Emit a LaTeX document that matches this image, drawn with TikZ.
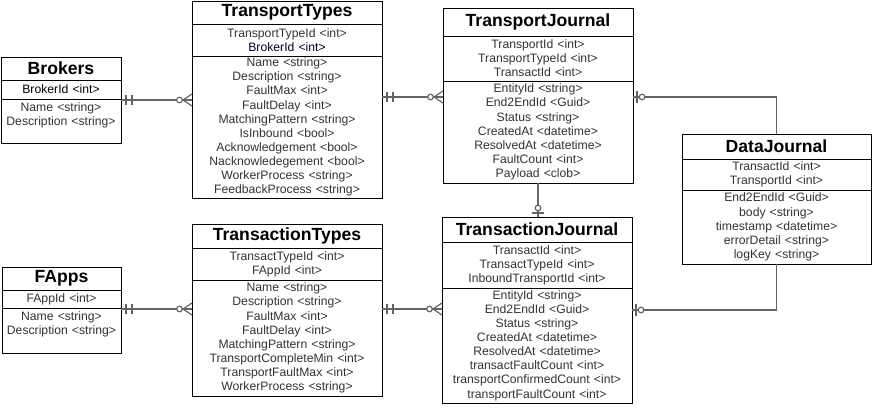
\documentclass[tikz,border=0pt]{standalone}
\usepackage{fontspec}
\setmainfont{Liberation Sans}
\usetikzlibrary{positioning}
\definecolor{attrgray}{RGB}{50,50,50}
\definecolor{keydark}{RGB}{0,0,40}
\definecolor{linkgray}{RGB}{100,100,100}
\tikzset{>=latex}
\tikzstyle{titlebox} = [draw,
                        line width=1pt,
                        inner sep=0pt,
                        outer sep=0pt,
                        align=center,
                        anchor=north west,
                        font=\bfseries\fontsize{17.6}{19}\selectfont]
\tikzstyle{fieldbox} = [draw,
                        line width=1pt,
                        inner sep=0pt,
                        outer sep=0pt,
                        align=center,
                        text=attrgray,
                        font=\fontsize{12.2}{14.1}\selectfont]
\tikzstyle{link} = [draw=linkgray,
                    line width=1.6pt]
\tikzset{
  mandone/.pic={\draw[link] (-5,-5) -- (-5,5) (-11,-5) -- (-11,5);},
  zeroone/.pic={\draw[link] (-4,-6) -- (-4,6);
                \draw[link, line width=1.2pt, fill=white] (-9,0) circle (2.8pt);},
  zeromany/.pic={\draw[link, line width=1.2pt] (-9,0) -- (0,-6) (-9,0) -- (0,6);
                 \draw[link, line width=1.2pt, fill=white] (-12.5,0) circle (2.8pt);}
}

\begin{document}
\begin{tikzpicture}[x=1pt,y=-1pt]
  \useasboundingbox (0,0) rectangle (875,408);

  % Entities
  \node[titlebox, text width=120pt, minimum height=23pt] (brk) at (1,57) {Brokers};
  \node[fieldbox, text width=120pt, minimum height=19pt, below=0pt of brk] (brkpk)
    {\textcolor{black}{BrokerId <int>}};
  \node[fieldbox, text width=120pt, minimum height=44pt, below=0pt of brkpk] (brkatt)
    {Name <string>\\Description <string>\\\mbox{}};

  \node[titlebox, text width=190pt, minimum height=23pt] (tt) at (192,1) {TransportTypes};
  \node[fieldbox, text width=190pt, minimum height=32pt, below=0pt of tt] (ttpk)
    {TransportTypeId <int>\\\textcolor{keydark}{BrokerId <int>}};
  \node[fieldbox, text width=190pt, minimum height=142pt, below=0pt of ttpk] (ttatt)
    {Name <string>\\Description <string>\\FaultMax <int>\\FaultDelay <int>\\
     MatchingPattern <string>\\IsInbound <bool>\\Acknowledgement <bool>\\
     Nacknowledegement <bool>\\WorkerProcess <string>\\FeedbackProcess <string>};

  \node[titlebox, text width=190pt, minimum height=28pt] (tj) at (443,8) {TransportJournal};
  \node[fieldbox, text width=190pt, minimum height=45pt, below=0pt of tj] (tjpk)
    {TransportId <int>\\TransportTypeId <int>\\TransactId <int>};
  \node[fieldbox, text width=190pt, minimum height=102pt, below=0pt of tjpk] (tjatt)
    {EntityId <string>\\End2EndId <Guid>\\Status <string>\\CreatedAt <datetime>\\
     ResolvedAt <datetime>\\FaultCount <int>\\Payload <clob>};

  \node[titlebox, text width=189pt, minimum height=25pt] (dj) at (682,134) {DataJournal};
  \node[fieldbox, text width=189pt, minimum height=31pt, below=0pt of dj] (djpk)
    {TransactId <int>\\TransportId <int>};
  \node[fieldbox, text width=189pt, minimum height=74pt, below=0pt of djpk] (djatt)
    {End2EndId <Guid>\\body <string>\\timestamp <datetime>\\errorDetail <string>\\
     logKey <string>};

  \node[titlebox, text width=119pt, minimum height=23pt] (fap) at (2,267) {FApps};
  \node[fieldbox, text width=119pt, minimum height=18pt, below=0pt of fap] (fappk)
    {FAppId <int>};
  \node[fieldbox, text width=119pt, minimum height=45pt, below=0pt of fappk] (fapatt)
    {Name <string>\\Description <string>\\\mbox{}};

  \node[titlebox, text width=190pt, minimum height=24pt] (tx) at (192,224) {TransactionTypes};
  \node[fieldbox, text width=190pt, minimum height=32pt, below=0pt of tx] (txpk)
    {TransactTypeId <int>\\FAppId <int>};
  \node[fieldbox, text width=190pt, minimum height=116pt, below=0pt of txpk] (txatt)
    {Name <string>\\Description <string>\\FaultMax <int>\\FaultDelay <int>\\
     MatchingPattern <string>\\TransportCompleteMin <int>\\TransportFaultMax <int>\\
     WorkerProcess <string>};

  \node[titlebox, text width=190pt, minimum height=25pt] (trj) at (442,217) {TransactionJournal};
  \node[fieldbox, text width=190pt, minimum height=46pt, below=0pt of trj] (trjpk)
    {TransactId <int>\\TransactTypeId <int>\\InboundTransportId <int>};
  \node[fieldbox, text width=190pt, minimum height=115pt, below=0pt of trjpk] (trjatt)
    {EntityId <string>\\End2EndId <Guid>\\Status <string>\\CreatedAt <datetime>\\
     ResolvedAt <datetime>\\transactFaultCount <int>\\transportConfirmedCount <int>\\
     transportFaultCount <int>};

  % Connector ends
  \coordinate (brkR) at ([yshift=21pt]brkatt.east);
  \coordinate (ttL) at (brkR -| ttatt.west);
  \coordinate (ttR) at ([yshift=30pt]ttatt.east);
  \coordinate (tjL) at (ttR -| tjatt.west);
  \coordinate (tjR) at ([yshift=35pt]tjatt.east);
  \coordinate (tjB) at (tjatt.south);
  \coordinate (trjT) at (tjB |- trj.north);
  \coordinate (fapR) at ([yshift=21.5pt]fapatt.east);
  \coordinate (txL) at (fapR -| txatt.west);
  \coordinate (txR) at ([yshift=29pt]txatt.east);
  \coordinate (trjL) at (txR -| trjatt.west);
  \coordinate (trjR) at ([yshift=35.5pt]trjatt.east);

  % Edges
  \draw[link] (brkR) -- (ttL);
  \draw[link] (ttR) -- (tjL);
  \draw[link] (tjR) -| (dj.north);
  \draw[link] (tjB) -- (trjT);
  \draw[link] (fapR) -- (txL);
  \draw[link] (txR) -- (trjL);
  \draw[link] (trjR) -| (djatt.south);

  % Markers
  \pic[rotate=180] at (brkR) {mandone};
  \pic at (ttL) {zeromany};
  \pic[rotate=180] at (ttR) {mandone};
  \pic at (tjL) {zeromany};
  \pic[rotate=180] at (tjR) {zeroone};
  \pic[rotate=-90] at (trjT) {zeroone};
  \pic[rotate=180] at (fapR) {mandone};
  \pic at (txL) {zeromany};
  \pic[rotate=180] at (txR) {mandone};
  \pic at (trjL) {zeromany};
  \pic[rotate=180] at (trjR) {zeroone};

\end{tikzpicture}
\end{document}
